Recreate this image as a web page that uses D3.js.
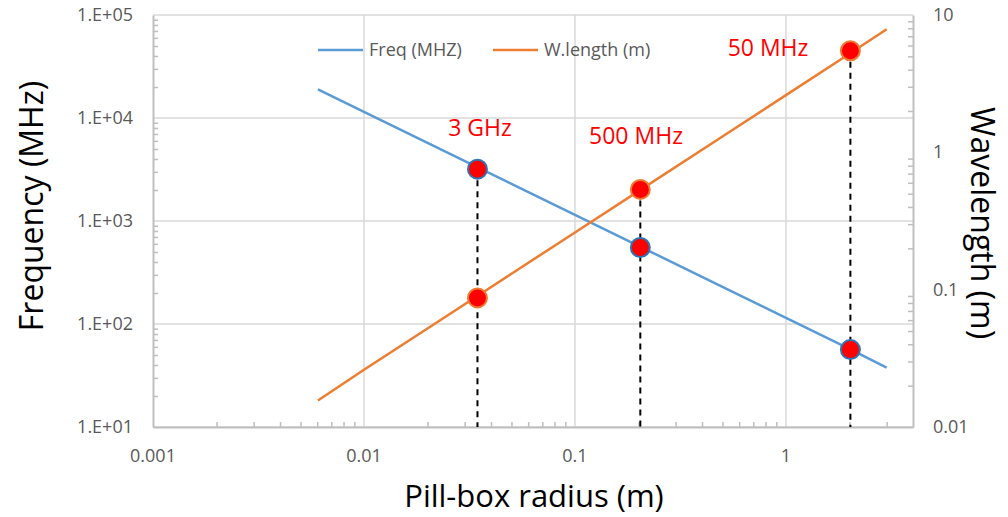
<!DOCTYPE html>
<html>
<head>
    <meta charset="utf-8">
    <title>Pill-box frequency and wavelength</title>
    <style>
        body { margin: 0; background: #fff; }
        text { font-family: "Open Sans", sans-serif; }
    </style>
    <script src="https://d3js.org/d3.v7.min.js"></script>
</head>
<body>
<svg id="chart"></svg>
<script>
    // Values
    const radius = [0.00605, 0.01, 0.02, 0.05, 0.1, 0.2, 0.5, 1, 2, 3];
    const freqMHz = [18960, 11480, 5740, 2296, 1148, 574, 229.6, 114.8, 57.4, 37.7];
    const waveM = [0.0156, 0.0261, 0.0522, 0.1305, 0.261, 0.522, 1.305, 2.61, 5.22, 7.87];

    const markRadius = [0.0345, 0.204, 2.02];
    const markFreq = [3185, 553, 56.4];
    const markWave = [0.0871, 0.537, 5.49];
    const markLabels = ['3 GHz', '500 MHz', '50 MHz'];

    const xTicks = [0.001, 0.01, 0.1, 1];
    const xTickLabels = ['0.001', '0.01', '0.1', '1'];
    const yTicks = [10, 100, 1000, 10000, 100000];
    const yTickLabels = ['1.E+01', '1.E+02', '1.E+03', '1.E+04', '1.E+05'];
    const y2Ticks = [0.01, 0.1, 1, 10];
    const y2TickLabels = ['0.01', '0.1', '1', '10'];

    const legendNames = ['Freq (MHZ)', 'W.length (m)'];

    const W = 1008, H = 517;
    const M = {left: 153, right: 95, top: 15, bottom: 90};
    const BLUE = '#5b9bd5', ORANGE = '#ed7d31', GRID = '#d9d9d9', AXIS = '#bfbfbf', TXT = '#595959';

    const svg = d3.select('#chart').attr('width', W).attr('height', H);

    const x = d3.scaleLog().domain([0.001, 4]).range([M.left, W - M.right]);
    const y = d3.scaleLog().domain([10, 100000]).range([H - M.bottom, M.top]);
    const y2 = d3.scaleLog().domain([0.01, 10]).range([H - M.bottom, M.top]);

    // minor ticks 2..9 of every decade inside the domain
    function minors(scale) {
        const [a, b] = scale.domain();
        const out = [];
        for (let p = Math.floor(Math.log10(a)); p <= Math.ceil(Math.log10(b)); p++) {
            for (let k = 2; k <= 9; k++) {
                const v = k * Math.pow(10, p);
                if (v > a && v < b) out.push(v);
            }
        }
        return out;
    }

    // gridlines
    svg.append('g').selectAll('line').data(yTicks).join('line')
        .attr('x1', M.left).attr('x2', W - M.right)
        .attr('y1', d => y(d)).attr('y2', d => y(d))
        .attr('stroke', GRID).attr('stroke-width', 1.5);
    svg.append('g').selectAll('line').data(xTicks.slice(1)).join('line')
        .attr('x1', d => x(d)).attr('x2', d => x(d))
        .attr('y1', M.top).attr('y2', H - M.bottom)
        .attr('stroke', GRID).attr('stroke-width', 1.5);

    // axes (minor ticks pointing into the plot)
    const bottom = H - M.bottom, right = W - M.right;
    function styleAxis(g) {
        g.selectAll('path, line').attr('stroke', AXIS).attr('stroke-width', 1.5);
        g.select('.domain').attr('stroke-width', 2);
    }
    svg.append('g').attr('transform', `translate(0,${bottom})`)
        .call(d3.axisBottom(x).tickValues(minors(x)).tickSize(-5).tickSizeOuter(0).tickFormat(''))
        .call(styleAxis);
    svg.append('g').attr('transform', `translate(${M.left},0)`)
        .call(d3.axisLeft(y).tickValues(minors(y)).tickSize(-5).tickSizeOuter(0).tickFormat(''))
        .call(styleAxis);
    svg.append('g').attr('transform', `translate(${right},0)`)
        .call(d3.axisRight(y2).tickValues(minors(y2)).tickSize(-5).tickSizeOuter(0).tickFormat(''))
        .call(styleAxis);

    // tick labels
    const lab = svg.append('g').attr('font-size', 18).attr('fill', TXT);
    lab.selectAll('.xl').data(xTicks).join('text')
        .attr('x', d => x(d)).attr('y', bottom + 35)
        .attr('text-anchor', 'middle').text((d, i) => xTickLabels[i]);
    lab.selectAll('.yl').data(yTicks).join('text')
        .attr('x', M.left - 20).attr('y', d => y(d) + 6)
        .attr('text-anchor', 'end').text((d, i) => yTickLabels[i]);
    lab.selectAll('.y2l').data(y2Ticks).join('text')
        .attr('x', right + 20).attr('y', d => y2(d) + 6)
        .attr('text-anchor', 'start').text((d, i) => y2TickLabels[i]);

    // axis titles
    svg.append('text').attr('x', 534).attr('y', 507).attr('text-anchor', 'middle')
        .attr('font-size', 31).attr('fill', '#000').text('Pill-box radius (m)');
    svg.append('text').attr('transform', 'translate(43,206) rotate(-90)').attr('text-anchor', 'middle')
        .attr('font-size', 32).attr('fill', '#000').text('Frequency (MHz)');
    svg.append('text').attr('transform', 'translate(971,223) rotate(90)').attr('text-anchor', 'middle')
        .attr('font-size', 32).attr('fill', '#000').text('Wavelength (m)');

    // series lines
    const freqLine = d3.line().x((d, i) => x(radius[i])).y(d => y(d));
    const waveLine = d3.line().x((d, i) => x(radius[i])).y(d => y2(d));
    svg.append('path').attr('d', freqLine(freqMHz)).attr('fill', 'none')
        .attr('stroke', BLUE).attr('stroke-width', 2.5);
    svg.append('path').attr('d', waveLine(waveM)).attr('fill', 'none')
        .attr('stroke', ORANGE).attr('stroke-width', 2.5);

    // dashed drop lines from the upper marker to the x axis
    svg.append('g').selectAll('line').data(markRadius).join('line')
        .attr('x1', d => x(d)).attr('x2', d => x(d))
        .attr('y1', (d, i) => Math.min(y(markFreq[i]), y2(markWave[i])))
        .attr('y2', bottom)
        .attr('stroke', '#000').attr('stroke-width', 2).attr('stroke-dasharray', '6 5');

    // markers
    svg.append('g').selectAll('circle').data(markRadius).join('circle')
        .attr('cx', d => x(d)).attr('cy', (d, i) => y(markFreq[i])).attr('r', 9.5)
        .attr('fill', '#ff0000').attr('stroke', '#2e75b6').attr('stroke-width', 2);
    svg.append('g').selectAll('circle').data(markRadius).join('circle')
        .attr('cx', d => x(d)).attr('cy', (d, i) => y2(markWave[i])).attr('r', 9.5)
        .attr('fill', '#ff0000').attr('stroke', ORANGE).attr('stroke-width', 2);

    // marker labels
    const labelPos = [[480, 136], [636, 144], [768, 56]];
    svg.append('g').selectAll('text').data(markLabels).join('text')
        .attr('x', (d, i) => labelPos[i][0]).attr('y', (d, i) => labelPos[i][1])
        .attr('text-anchor', 'middle').attr('font-size', 23).attr('fill', '#ff0000')
        .text(d => d);

    // legend
    const legend = svg.append('g').attr('font-size', 18).attr('fill', TXT);
    const legendX = [318, 493];
    [BLUE, ORANGE].forEach((c, i) => {
        legend.append('line').attr('x1', legendX[i]).attr('x2', legendX[i] + 45)
            .attr('y1', 50).attr('y2', 50).attr('stroke', c).attr('stroke-width', 2.5);
        legend.append('text').attr('x', legendX[i] + 51).attr('y', 56).text(legendNames[i]);
    });
</script>
</body>
</html>
